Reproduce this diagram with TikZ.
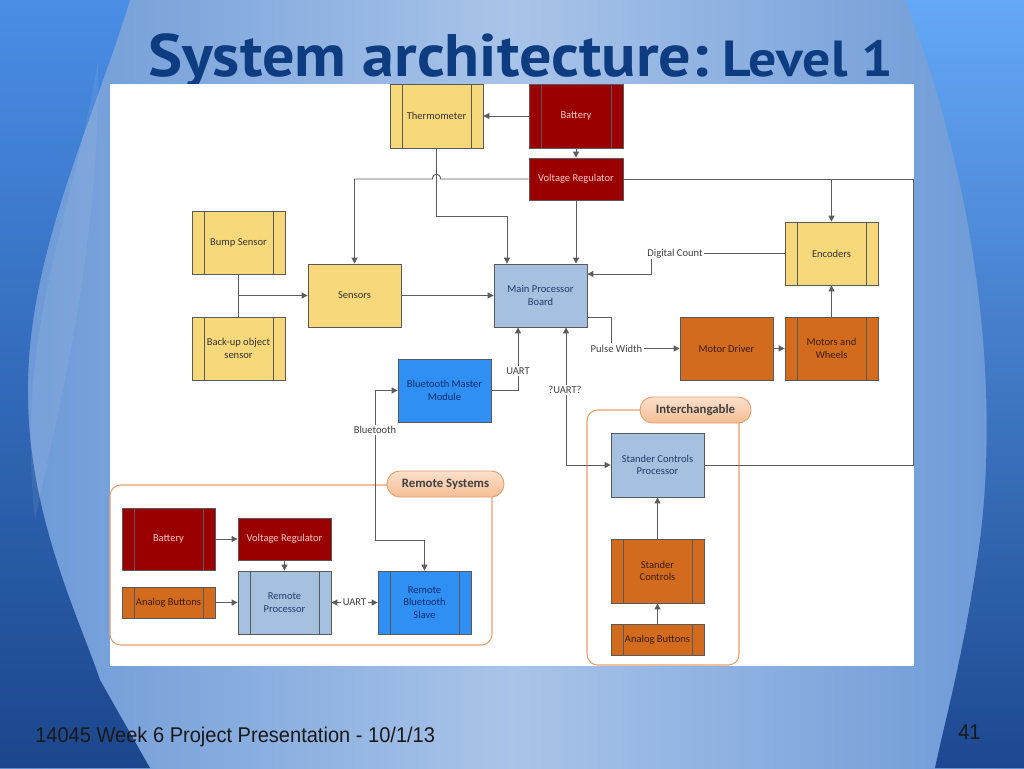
\documentclass[tikz,border=0pt]{standalone}
\usepackage{fontspec}
\setmainfont{Carlito}
\newfontfamily\titlefont{PT Sans}
\newfontfamily\footfont{Liberation Sans}
\usetikzlibrary{arrows.meta}
\definecolor{bgE}{HTML}{6A98D6}
\definecolor{bgC}{HTML}{A9C4E9}
\definecolor{lTop}{HTML}{4A8EE6}
\definecolor{lBot}{HTML}{1B468C}
\definecolor{rTop}{HTML}{64A8F8}
\definecolor{rBot}{HTML}{1C4890}
\definecolor{cTitle}{HTML}{0E3C80}
\definecolor{cYel}{HTML}{F7D87A}
\definecolor{cRed}{HTML}{9A0000}
\definecolor{cOrg}{HTML}{D26B1E}
\definecolor{cLBlue}{HTML}{A5C1DF}
\definecolor{cBlue}{HTML}{2F8FF2}
\definecolor{cLine}{HTML}{5C5C5C}
\definecolor{cGrp}{HTML}{E8A06A}
\definecolor{cTabT}{HTML}{FBE0CC}
\definecolor{cTabB}{HTML}{F5BE94}
\newcommand\mkbox[7]{\node[#6, minimum width={(#4-#2)*0.75pt}, minimum height={(#5-#3)*0.75pt}] (#1) at ({(#2+#4)/2},{(#3+#5)/2}) {#7};}
\begin{document}
\begin{tikzpicture}[x=0.75pt,y=-0.75pt,
  box/.style={draw=black!65, line width=0.6pt, inner sep=1pt, align=center, font=\fontsize{7.9}{9.5}\selectfont},
  sub/.style={path picture={\draw[black!65,line width=0.6pt]
     ([xshift=9pt]path picture bounding box.north west) -- ([xshift=9pt]path picture bounding box.south west)
     ([xshift=-9pt]path picture bounding box.north east) -- ([xshift=-9pt]path picture bounding box.south east);}},
  ybox/.style={box, fill=cYel, text=black!80},
  rbox/.style={box, fill=cRed, text={rgb,255:red,244;green,200;blue,200}},
  obox/.style={box, fill=cOrg, text={rgb,255:red,60;green,30;blue,5}},
  lbbox/.style={box, fill=cLBlue, text={rgb,255:red,31;green,59;blue,107}},
  bluebox/.style={box, fill=cBlue, text={rgb,255:red,11;green,46;blue,110}},
  conn/.style={draw=cLine, line width=0.7pt},
  arr/.style={conn, -{Triangle[length=4.5pt,width=4.5pt]}},
  barr/.style={conn, {Triangle[length=4.5pt,width=4.5pt]}-{Triangle[length=4.5pt,width=4.5pt]}},
  lbl/.style={fill=white, inner sep=1pt, text=black!75, font=\fontsize{7.9}{9.5}\selectfont},
  grp/.style={draw=cGrp, line width=0.8pt, rounded corners=8pt, inner sep=0pt},
  tab/.style={draw=cGrp, line width=0.7pt, rounded corners=9.5pt, top color=cTabT, bottom color=cTabB, inner sep=0pt, text=black!75, font=\bfseries\fontsize{9.6}{11}\selectfont}
]
\useasboundingbox (0,0) rectangle (1024,768);
% background
\shade[left color=bgE, right color=bgE, middle color=bgC] (0,0) rectangle (1024,768);
\shade[top color=lTop, bottom color=lBot] (0,0) -- (130,0) .. controls (90,130) and (25,260) .. (28,400) .. controls (30,520) and (80,620) .. (100,680) -- (150,768) -- (0,768) -- cycle;
\fill[white,opacity=0.07] (98,60) .. controls (70,230) and (15,330) .. (35,520) .. controls (55,420) and (100,260) .. (98,60) -- cycle;
\shade[top color=rTop, bottom color=rBot] (905,0) .. controls (975,180) and (1000,380) .. (980,540) .. controls (965,650) and (945,720) .. (935,768) -- (1024,768) -- (1024,0) -- cycle;
% title
\node[anchor=base west, inner sep=0pt, text=cTitle] (title) at (148,76) {\titlefont\bfseries\fontsize{45}{50}\selectfont\scalebox{1.07}[1]{System architecture:}};
\node[anchor=base west, inner sep=0pt, text=cTitle] (title2) at (722,76) {\titlefont\bfseries\fontsize{38}{44}\selectfont\scalebox{1.1}[1]{Level 1}};
% footer
\node[anchor=base west, inner sep=0pt, text=black!90] (foot) at (35,742) {\footfont\fontsize{16}{18}\selectfont\scalebox{0.94}[1]{14045 Week 6 Project Presentation - 10/1/13}};
\node[anchor=base west, inner sep=0pt, text=black!90] (pnum) at (958,739) {\footfont\fontsize{16}{18}\selectfont\scalebox{0.94}[1]{41}};
% white panel
\fill[white] (110,84) rectangle (914,666);
% groups
\mkbox{gRemote}{110}{485}{492}{645}{grp}{}
\mkbox{gInter}{587}{410}{739}{665}{grp}{}
% boxes
\mkbox{therm}{390}{84}{483}{148}{ybox,sub}{Thermometer}
\mkbox{batt}{529}{84}{623}{148}{rbox,sub}{Battery}
\mkbox{vr}{529}{158}{623}{200}{rbox}{Voltage Regulator}
\mkbox{bump}{192}{211}{285}{274}{ybox,sub}{Bump Sensor}
\mkbox{backup}{192}{317}{285}{380}{ybox,sub}{Back-up object\\sensor}
\mkbox{sens}{308}{264}{401}{327}{ybox}{Sensors}
\mkbox{mpb}{494}{264}{587}{327}{lbbox}{Main Processor\\Board}
\mkbox{enc}{785}{222}{878}{285}{ybox,sub}{Encoders}
\mkbox{md}{680}{317}{773}{380}{obox}{Motor Driver}
\mkbox{mw}{785}{317}{878}{380}{obox,sub}{Motors and\\Wheels}
\mkbox{btm}{398}{359}{491}{422}{bluebox}{Bluetooth Master\\Module}
\mkbox{scp}{611}{433}{704}{497}{lbbox}{Stander Controls\\Processor}
\mkbox{sc}{611}{539}{704}{603}{obox,sub}{Stander\\Controls}
\mkbox{abR}{611}{624}{704}{655}{obox,sub}{Analog Buttons}
\mkbox{rbatt}{122}{508}{215}{570}{rbox,sub}{Battery}
\mkbox{rvr}{238}{518}{331}{560}{rbox}{Voltage Regulator}
\mkbox{abL}{122}{587}{215}{618}{obox,sub}{Analog Buttons}
\mkbox{rp}{238}{571}{331}{634}{lbbox,sub}{Remote\\Processor}
\mkbox{rbs}{378}{571}{471}{634}{bluebox,sub}{Remote\\Bluetooth\\Slave}
% connectors
\coordinate (jT) at (507,216);
\coordinate (rR) at (913,179);
\coordinate (dc) at (651,253.5);
\coordinate (pw) at (611,317);
\coordinate (bt1) at (375,540);
\draw[arr] (batt.west) -- (therm.east);
\draw[arr] (batt.south) -- (vr.north);
\draw[arr] (vr.west) -- (440.5,179) .. controls (440.5,172.5) and (432.5,172.5) .. (432.5,179) -- (sens.north |- vr.west) -- (sens.north);
\draw[arr] (therm.south) |- (jT) -- (jT |- mpb.north);
\draw[arr] (vr.south) -- (vr.south |- mpb.north);
\draw[conn] (vr.east) -- (rR) |- (scp.east);
\draw[arr] (enc.north |- vr.east) -- (enc.north);
\draw[conn] (bump.south) -- (backup.north);
\draw[arr] (bump.south |- sens.west) -- (sens.west);
\draw[arr] (sens.east) -- (mpb.west);
\draw[arr] (enc.west) -- (dc) -- (dc |- 0,274) -- (mpb.east |- 0,274);
\draw[arr] (mpb.east |- pw) -- (pw) -- (pw |- md.west) -- (md.west);
\draw[arr] (md.east) -- (mw.west);
\draw[arr] (mw.north) -- (enc.south);
\draw[arr] (btm.east) -| (mpb.south -| 518,0);
\draw[barr] (mpb.south -| 566,0) |- (scp.west);
\draw[barr] (btm.west) -| (bt1) -| (rbs.north);
\draw[arr] (sc.north) -- (scp.south);
\draw[arr] (abR.north) -- (sc.south);
\draw[arr] (rbatt.east |- rvr.west) -- (rvr.west);
\draw[arr] (rvr.south) -- (rp.north);
\draw[arr] (abL.east) -- (abL.east -| rp.west);
\draw[barr] (rp.east) -- (rbs.west);
% labels
\node[lbl] (lDC) at (675,253.5) {Digital Count};
\node[lbl] (lPW) at (616.5,348.5) {Pulse Width};
\node[lbl] (lU1) at (518,371) {UART};
\node[lbl] (lU2) at (565,390) {?UART?};
\node[lbl] (lBT) at (375,430) {Bluetooth};
\node[lbl] (lU3) at (354.5,602.5) {UART};
% tabs
\mkbox{tRemote}{387}{471}{504}{497}{tab}{Remote Systems}
\mkbox{tInter}{640}{397}{751}{423}{tab}{Interchangable}
\end{tikzpicture}
\end{document}
